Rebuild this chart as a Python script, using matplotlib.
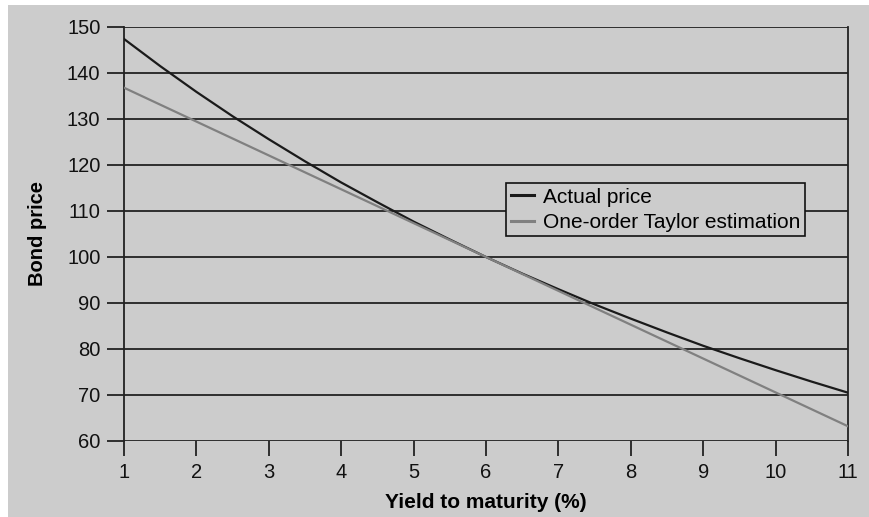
import matplotlib
matplotlib.use("Agg")
import matplotlib.pyplot as plt
from matplotlib.patches import Rectangle

# Data
yields = [1, 1.5, 2, 2.5, 3, 3.5, 4, 4.5, 5, 5.5, 6, 6.5, 7, 7.5, 8, 8.5, 9, 9.5, 10, 10.5, 11]
actual_price = [147.4, 141.5, 135.9, 130.6, 125.6, 120.8, 116.2, 111.9, 107.7, 103.8, 100.0,
                96.4, 93.0, 89.7, 86.6, 83.6, 80.7, 78.0, 75.4, 72.9, 70.5]
taylor_yields = [1, 6, 11]
taylor_price = [136.8, 100.0, 63.2]
x_ticks = [1, 2, 3, 4, 5, 6, 7, 8, 9, 10, 11]
y_ticks = [60, 70, 80, 90, 100, 110, 120, 130, 140, 150]

BG = "#cccccc"
plt.rcParams['font.family'] = ['Liberation Sans', 'DejaVu Sans']

W, H = 869, 517
fig = plt.figure(figsize=(W / 100, H / 100), dpi=100, facecolor="white")
fig.patches.append(Rectangle((8 / W, -0.01), 1 - 8 / W + 0.01, 1.01 - 5 / H, transform=fig.transFigure,
                             facecolor=BG, edgecolor="none", zorder=-10))

ax = fig.add_axes([124 / W, 1 - 441 / H, (848 - 124) / W, (441 - 27) / H])
ax.set_facecolor(BG)

ax.plot(yields, actual_price, color="#1a1a1a", lw=1.6, label="Actual price", zorder=3)
ax.plot(taylor_yields, taylor_price, color="#808080", lw=1.6,
        label="One-order Taylor estimation", zorder=3)

ax.set_xlim(1, 11)
ax.set_ylim(60, 150)
ax.set_xticks(x_ticks)
ax.set_yticks(y_ticks)
ax.yaxis.grid(True, color="#222222", lw=1.3)
ax.set_axisbelow(True)

for s in ["top", "bottom"]:
    ax.spines[s].set_visible(False)
for s in ["left", "right"]:
    ax.spines[s].set_color("#222222")
    ax.spines[s].set_linewidth(1.3)

ax.tick_params(axis="y", direction="out", length=12, width=1.3, color="#222222",
               labelsize=14.5, pad=5, labelcolor="#111111")
ax.tick_params(axis="x", direction="out", length=11, width=1.3, color="#222222",
               labelsize=14.5, pad=5, labelcolor="#111111")

ax.set_xlabel("Yield to maturity (%)", fontsize=15, fontweight="bold", labelpad=8)
ax.set_ylabel("Bond price", fontsize=14.5, fontweight="bold", labelpad=14)

leg = ax.legend(loc="upper left", bbox_to_anchor=((506 - 124) / 724, (441 - 183) / 414),
                borderaxespad=0, frameon=True, fancybox=False, fontsize=15,
                handlelength=1.1, handletextpad=0.45, labelspacing=0.3, borderpad=0.22)
leg.get_frame().set_facecolor(BG)
leg.get_frame().set_edgecolor("#111111")
leg.get_frame().set_linewidth(1.2)
leg.get_frame().set_alpha(1)
for line in leg.get_lines():
    line.set_linewidth(2.2)

fig.savefig("out.png", dpi=100, facecolor=fig.get_facecolor())
